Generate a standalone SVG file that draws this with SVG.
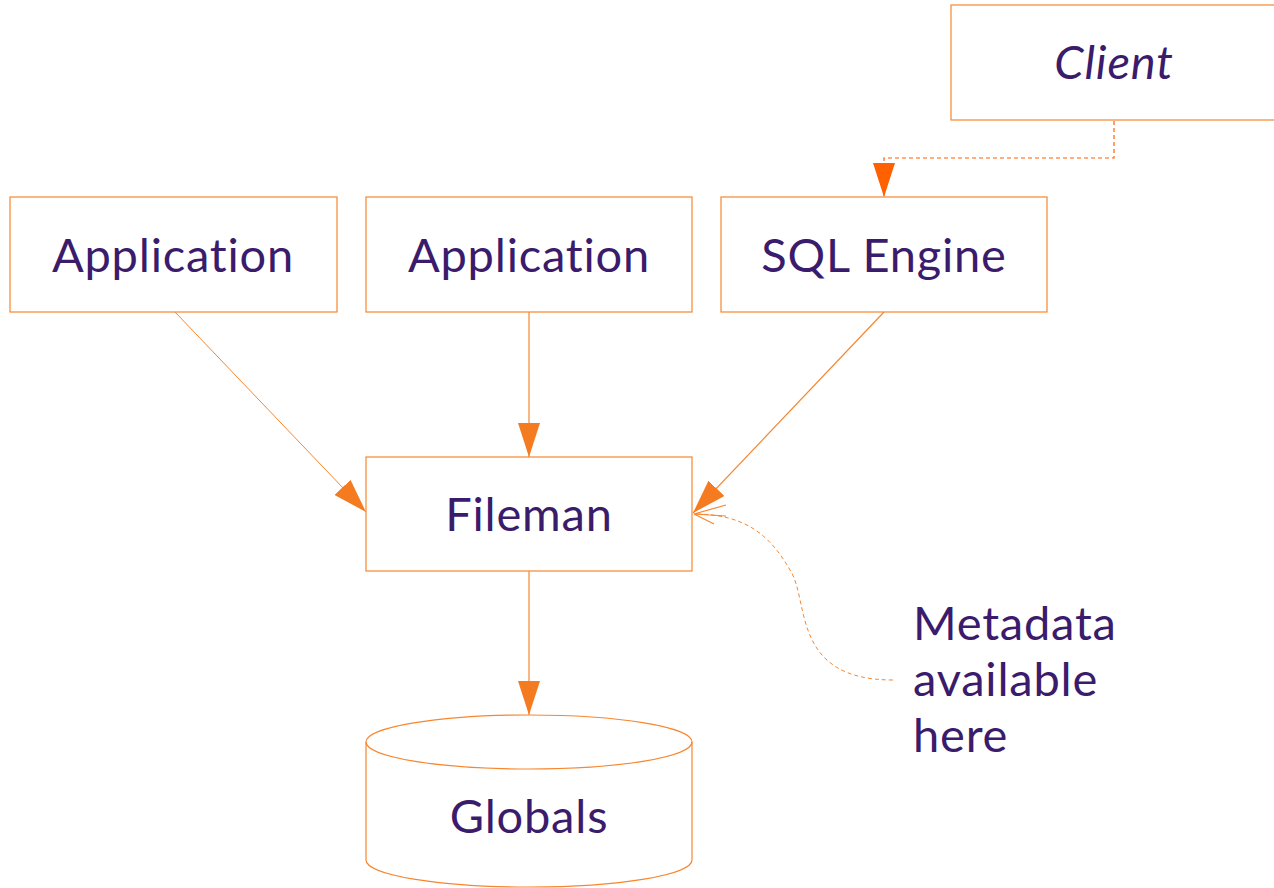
<svg xmlns="http://www.w3.org/2000/svg" width="1274" height="888" viewBox="0 0 1274 888">
<defs>
<style>
.box{fill:#fff;stroke:#F7862E;stroke-width:1.2}
.lbl{font-family:Lato,"Open Sans",sans-serif;font-size:47px;letter-spacing:0.8px;fill:#3B1B6B;text-anchor:middle}
.edge{fill:none;stroke:#F7862E;stroke-width:1.2}
</style>
<marker id="tri" viewBox="0 0 34 22" refX="34" refY="11" markerWidth="34" markerHeight="22" markerUnits="userSpaceOnUse" orient="auto">
<path d="M0,0 L34,11 L0,22 Z" fill="#F47B20"/>
</marker>
<marker id="tri2" viewBox="0 0 34 22" refX="34" refY="11" markerWidth="34" markerHeight="22" markerUnits="userSpaceOnUse" orient="auto">
<path d="M0,0 L34,11 L0,22 Z" fill="#FF6000"/>
</marker>
</defs>
<rect width="1274" height="888" fill="#fff"/>
<g id="connectors">
<path class="edge" d="M175,312 L366,512" marker-end="url(#tri)" style="stroke-width:1"/>
<path class="edge" d="M529,312 L529,457" marker-end="url(#tri)"/>
<path class="edge" d="M884,312 L693,513" marker-end="url(#tri)"/>
<path class="edge" d="M529,571 L529,715" marker-end="url(#tri)"/>
<path d="M1114,121 L1114,158 L884,158 L884,197" fill="none" stroke="#FF6000" stroke-width="1.2" stroke-dasharray="4,3" marker-end="url(#tri2)"/>
<path d="M893,680 C790,680 810,600 790,570 C770,535 745,514 694,514" fill="none" stroke="#F7862E" stroke-width="1" stroke-dasharray="4,3"/>
<path d="M694,514 L726,505 M694,514 L726,516 M694,514 L714,524" fill="none" stroke="#F7862E" stroke-width="1.2"/>
</g>
<g id="client">
<rect class="box" x="951" y="5" width="340" height="115"/>
<text class="lbl" x="1114" y="79" font-style="italic">Client</text>
</g>
<g id="app1">
<rect class="box" x="10" y="197" width="327" height="115"/>
<text class="lbl" x="173" y="272">Application</text>
</g>
<g id="app2">
<rect class="box" x="366" y="197" width="326" height="115"/>
<text class="lbl" x="529" y="272">Application</text>
</g>
<g id="sql">
<rect class="box" x="721" y="197" width="326" height="115"/>
<text class="lbl" x="884" y="272">SQL Engine</text>
</g>
<g id="fileman">
<rect class="box" x="366" y="457" width="326" height="114"/>
<text class="lbl" x="529" y="531">Fileman</text>
</g>
<g id="globals">
<path class="box" d="M366,742 L366,860 A163,27 0 0 0 692,860 L692,742 A163,27 0 0 0 366,742 Z"/>
<path class="box" style="fill:none" d="M366,742 A163,27 0 0 0 692,742"/>
<text class="lbl" x="529" y="833">Globals</text>
</g>
<g id="note">
<text class="lbl" style="text-anchor:start" x="913" y="640">Metadata</text>
<text class="lbl" style="text-anchor:start" x="913" y="696">available</text>
<text class="lbl" style="text-anchor:start" x="913" y="752">here</text>
</g>
</svg>
